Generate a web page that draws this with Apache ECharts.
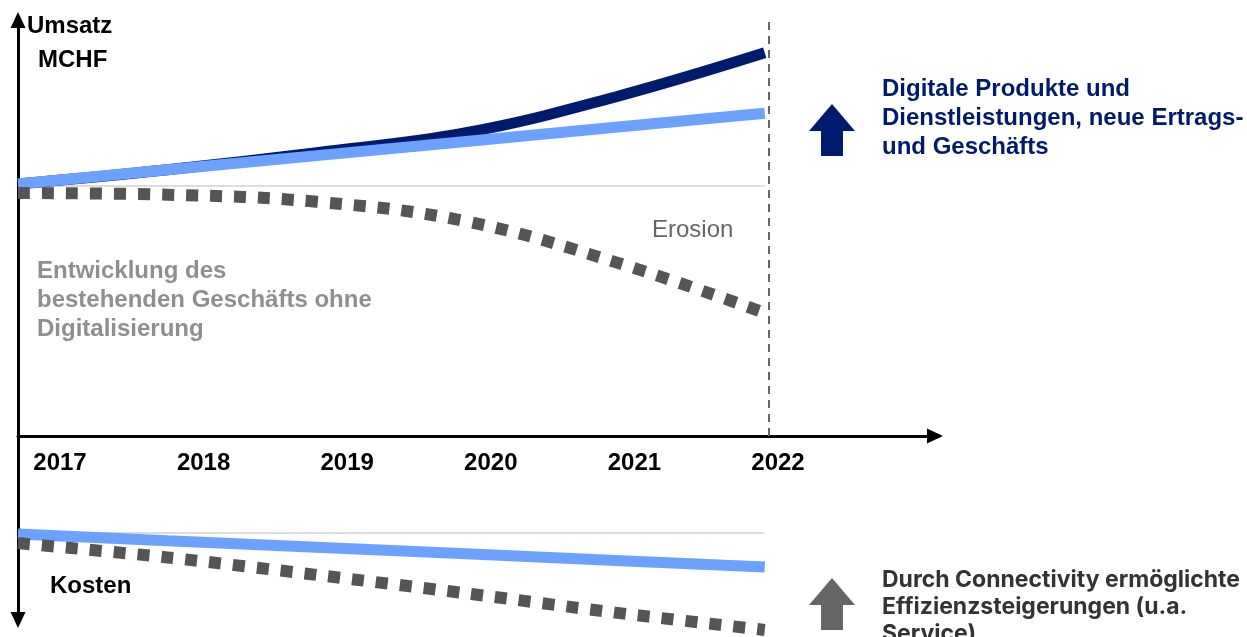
<!DOCTYPE html>
<html>
<head>
<meta charset="utf-8">
<script src="https://cdn.jsdelivr.net/npm/echarts@6/dist/echarts.min.js"></script>
<style>
html,body{margin:0;padding:0;background:#fff;}
#chart{width:1247px;height:637px;}
</style>
</head>
<body>
<div id="chart"></div>
<script>
// ---- data ----
const years = ['2017', '2018', '2019', '2020', '2021', '2022'];
const yearValues = [2017, 2018, 2019, 2020, 2021, 2022];
// Umsatz (revenue), index units
const revenueBase = [60.1, 60.1, 60.1, 60.1, 60.1, 60.1];
const revenueDigital = [60.6, 64.0, 68.1, 72.9, 81.5, 92.1];
const revenueLinear = [60.6, 64.0, 67.4, 70.8, 74.2, 77.6];
const revenueErosion = [58.4, 58.0, 56.3, 51.6, 41.8, 29.6];
// Kosten (costs), index units (downwards)
const costBase = [52.7, 52.7, 52.7, 52.7, 52.7, 52.7];
const costDigital = [53.3, 56.9, 60.4, 64.0, 67.6, 71.2];
const costNoDigital = [58.2, 66.0, 75.5, 85.5, 96.0, 105.4];
const markerYear = 2022.03;
const xMaxExtent = 2023.14;

// ---- texts ----
const yTitleLines = ['Umsatz', 'MCHF'];
const erosionLabel = 'Erosion';
const baseNoteLines = ['Entwicklung des', 'bestehenden Geschäfts ohne', 'Digitalisierung'];
const costLabel = 'Kosten';
const digitalNoteLines = ['Digitale Produkte und', 'Dienstleistungen, neue Ertrags-', 'und Geschäfts'];
const efficiencyNoteLines = ['Durch Connectivity ermöglichte', 'Effizienzsteigerungen (u.a.', 'Service)'];

const NAVY = '#001a6e';
const LIGHT = '#6ba1ff';
const DOTS = '#555555';
const BASE = '#dddddd';
const FONT = '"Liberation Sans", Arial, sans-serif';
const FS = 24;

const pairs = (vals) => yearValues.map((y, i) => [y, vals[i]]);

const chart = echarts.init(document.getElementById('chart'));

function lines(arr, x, y0, dy, color, weight, family, size) {
  return arr.map((t, i) => {
    return { type: 'text', x: x, y: y0 + i * dy, z: 100,
      style: { text: t, fill: color, font: (weight || 'bold') + ' ' + (size || FS) + 'px ' + (family || FONT), textVerticalAlign: 'middle' } };
  });
}
function upArrow(cx, tipY, color) {
  return {
    type: 'polygon', z: 100,
    shape: { points: [[cx, tipY], [cx + 23, tipY + 27], [cx + 11, tipY + 27], [cx + 11, tipY + 52], [cx - 11, tipY + 52], [cx - 11, tipY + 27], [cx - 23, tipY + 27]] },
    style: { fill: color }
  };
}

const lineBase = { type: 'line', symbol: 'none', silent: true, clip: false };
const axisArrowLine = (sym) => ({ show: true, onZero: false, symbol: sym, symbolSize: [15, 16], lineStyle: { color: '#000', width: 3 } });

const option = {
  animation: false,
  backgroundColor: '#ffffff',
  grid: [
    { left: 18, right: 312, top: 20, bottom: 201 },
    { left: 18, right: 312, top: 436, bottom: 17 },
    { left: 60, right: 469, top: 300, bottom: 201 }
  ],
  xAxis: [
    { type: 'value', gridIndex: 0, min: 2017, max: xMaxExtent, splitLine: { show: false },
      axisLabel: { show: false }, axisTick: { show: false }, axisLine: axisArrowLine(['none', 'triangle']) },
    { type: 'value', gridIndex: 1, min: 2017, max: xMaxExtent, splitLine: { show: false },
      axisLabel: { show: false }, axisTick: { show: false }, axisLine: { show: false } },
    { type: 'category', gridIndex: 2, data: years, boundaryGap: false,
      axisLine: { show: false }, axisTick: { show: false }, splitLine: { show: false },
      axisLabel: { interval: 0, margin: 15, color: '#000', fontWeight: 'bold', fontSize: FS, fontFamily: FONT } }
  ],
  yAxis: [
    { type: 'value', gridIndex: 0, min: 0, max: 100, splitLine: { show: false },
      axisLabel: { show: false }, axisTick: { show: false }, axisLine: axisArrowLine(['none', 'triangle']) },
    { type: 'value', gridIndex: 1, min: 0, max: 100, inverse: true, splitLine: { show: false },
      axisLabel: { show: false }, axisTick: { show: false }, axisLine: axisArrowLine(['triangle', 'none']) },
    { type: 'value', gridIndex: 2, show: false }
  ],
  series: [
    Object.assign({}, lineBase, { name: 'Basis Umsatz', xAxisIndex: 0, yAxisIndex: 0, data: pairs(revenueBase),
      lineStyle: { color: BASE, width: 2 }, z: 1,
      markLine: { silent: true, symbol: 'none', label: { show: false },
        lineStyle: { color: '#666', width: 2, type: [8, 6] }, data: [{ xAxis: markerYear }] } }),
    Object.assign({}, lineBase, { name: 'Digital', xAxisIndex: 0, yAxisIndex: 0, data: pairs(revenueDigital), smooth: 0.4,
      lineStyle: { color: NAVY, width: 11 }, z: 2 }),
    Object.assign({}, lineBase, { name: 'Linear', xAxisIndex: 0, yAxisIndex: 0, data: pairs(revenueLinear),
      lineStyle: { color: LIGHT, width: 11 }, z: 3 }),
    Object.assign({}, lineBase, { name: 'Erosion', xAxisIndex: 0, yAxisIndex: 0, data: pairs(revenueErosion), smooth: 0.4,
      lineStyle: { color: DOTS, width: 12, type: [12, 12] }, z: 4 }),
    Object.assign({}, lineBase, { name: 'Basis Kosten', xAxisIndex: 1, yAxisIndex: 1, data: pairs(costBase),
      lineStyle: { color: BASE, width: 2 }, z: 1 }),
    Object.assign({}, lineBase, { name: 'Kosten digital', xAxisIndex: 1, yAxisIndex: 1, data: pairs(costDigital),
      lineStyle: { color: LIGHT, width: 11 }, z: 3 }),
    Object.assign({}, lineBase, { name: 'Kosten ohne', xAxisIndex: 1, yAxisIndex: 1, data: pairs(costNoDigital), smooth: 0.3,
      lineStyle: { color: DOTS, width: 12, type: [12, 12] }, z: 4 })
  ],
  graphic: [].concat(
    lines(yTitleLines.slice(0, 1), 27, 26, 0, '#000'),
    lines(yTitleLines.slice(1), 38, 60, 0, '#000'),
    lines([erosionLabel], 652, 230, 0, '#666', 'normal'),
    lines(baseNoteLines, 37, 271, 29, '#8f8f8f'),
    lines([costLabel], 50, 586, 0, '#000'),
    lines(digitalNoteLines, 882, 89, 29, NAVY),
    lines(efficiencyNoteLines, 882, 580, 27, '#333333', 'bold', 'Inter, Roboto, "Liberation Sans", sans-serif', 23),
    [upArrow(832, 104, NAVY), upArrow(832, 578, '#666666')]
  )
};
chart.setOption(option);
</script>
</body>
</html>
